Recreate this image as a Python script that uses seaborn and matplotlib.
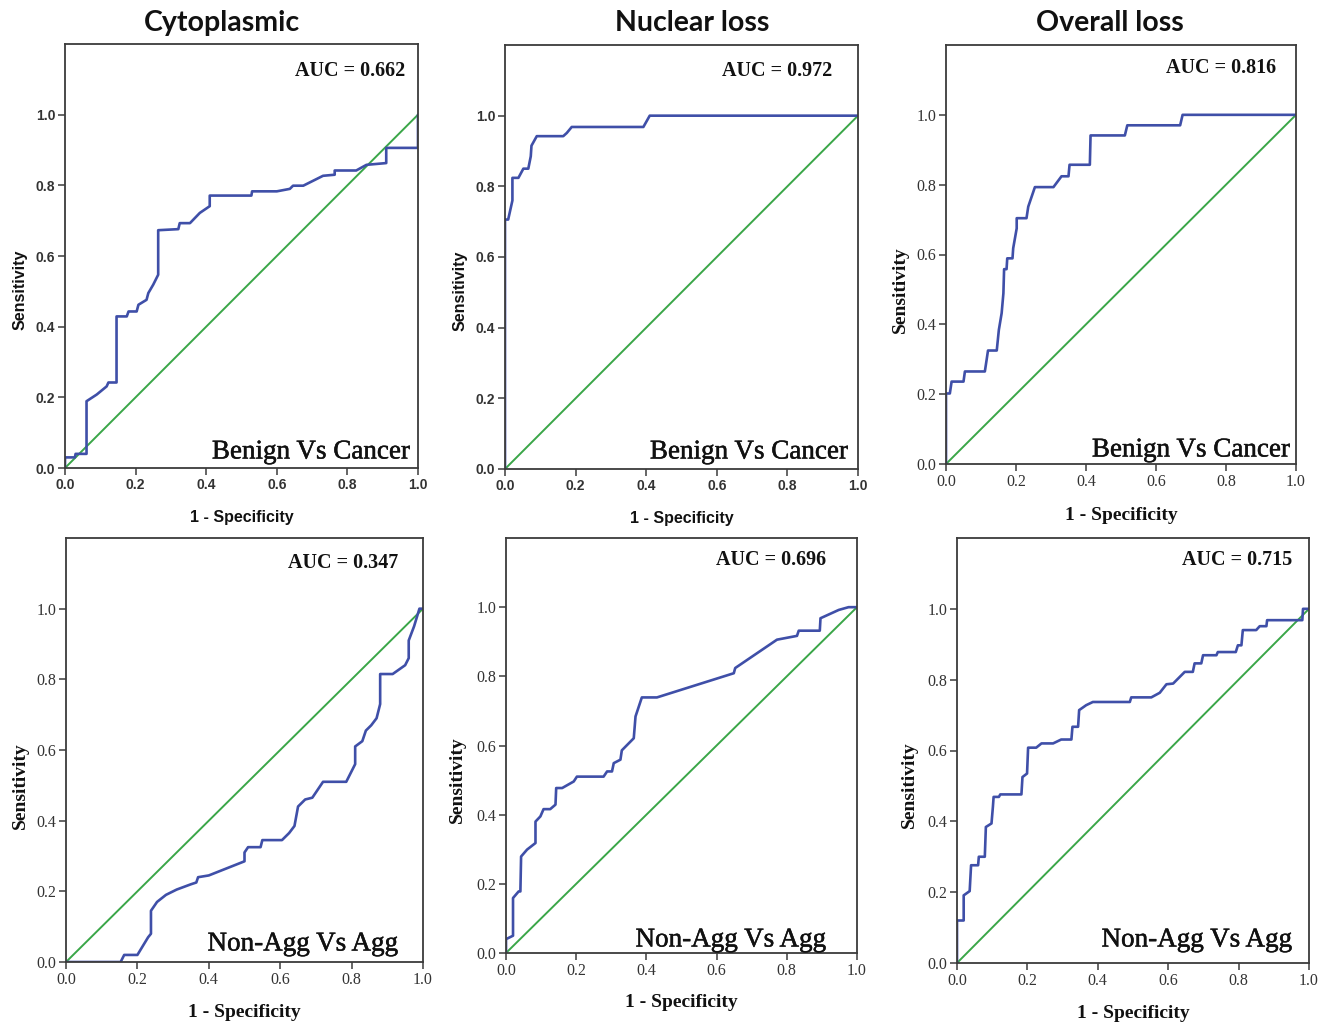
import matplotlib
matplotlib.use("Agg")
import matplotlib.pyplot as plt
import matplotlib.patheffects as pe
import seaborn as sns
import pandas as pd

sns.set_theme(style="white")
plt.rcParams['font.family'] = ['DejaVu Sans']

titles = ["Cytoplasmic", "Nuclear loss", "Overall loss"]
comparisons = ["Benign Vs Cancer", "Non-Agg Vs Agg"]
auc_values = [0.662, 0.972, 0.816, 0.347, 0.696, 0.715]
tick_values = [0.0, 0.2, 0.4, 0.6, 0.8, 1.0]
tick_labels = ["0.0", "0.2", "0.4", "0.6", "0.8", "1.0"]

# ROC curves: 1 - specificity (fpr) and sensitivity (tpr)
cyto_bc_fpr = [0, 0, 0.028, 0.03, 0.061, 0.061, 0.09, 0.118, 0.123, 0.146, 0.146, 0.175, 0.18,
               0.203, 0.208, 0.231, 0.236, 0.25, 0.264, 0.264, 0.321, 0.325, 0.354, 0.382, 0.41,
               0.41, 0.528, 0.53, 0.6, 0.637, 0.646, 0.675, 0.731, 0.764, 0.764, 0.825, 0.854,
               0.91, 0.91, 1.0, 1.0]
cyto_bc_tpr = [0, 0.03, 0.03, 0.04, 0.04, 0.189, 0.208, 0.231, 0.242, 0.242, 0.429, 0.429, 0.443,
               0.443, 0.462, 0.476, 0.495, 0.519, 0.547, 0.673, 0.676, 0.693, 0.693, 0.722, 0.741,
               0.771, 0.771, 0.783, 0.783, 0.79, 0.799, 0.799, 0.827, 0.83, 0.842, 0.842, 0.858,
               0.863, 0.906, 0.906, 1.0]

nuc_bc_fpr = [0, 0, 0.009, 0.021, 0.021, 0.038, 0.052, 0.066, 0.073, 0.075, 0.09, 0.165, 0.175,
              0.189, 0.392, 0.41, 1.0]
nuc_bc_tpr = [0, 0.706, 0.706, 0.76, 0.824, 0.824, 0.85, 0.85, 0.885, 0.915, 0.942, 0.942, 0.951,
              0.968, 0.968, 1.0, 1.0]

ovr_bc_fpr = [0, 0, 0.011, 0.016, 0.05, 0.054, 0.111, 0.116, 0.12, 0.145, 0.151, 0.159, 0.164,
              0.166, 0.173, 0.175, 0.19, 0.192, 0.202, 0.202, 0.23, 0.235, 0.254, 0.307, 0.33,
              0.35, 0.353, 0.411, 0.413, 0.511, 0.518, 0.669, 0.676, 1.0]
ovr_bc_tpr = [0, 0.202, 0.202, 0.236, 0.236, 0.265, 0.265, 0.298, 0.325, 0.325, 0.384, 0.432,
              0.489, 0.558, 0.558, 0.589, 0.589, 0.618, 0.675, 0.704, 0.704, 0.737, 0.793, 0.793,
              0.824, 0.824, 0.857, 0.857, 0.941, 0.941, 0.97, 0.97, 1.0, 1.0]

cyto_na_fpr = [0, 0.153, 0.163, 0.2, 0.23, 0.238, 0.238, 0.255, 0.28, 0.31, 0.35, 0.365, 0.37,
               0.4, 0.5, 0.5, 0.51, 0.545, 0.55, 0.605, 0.625, 0.64, 0.65, 0.67, 0.69, 0.72, 0.785,
               0.8, 0.81, 0.81, 0.83, 0.84, 0.855, 0.87, 0.88, 0.88, 0.915, 0.95, 0.96, 0.96, 0.975,
               0.99, 1.0]
cyto_na_tpr = [0, 0, 0.02, 0.02, 0.07, 0.08, 0.145, 0.17, 0.19, 0.205, 0.22, 0.225, 0.24, 0.245,
               0.285, 0.31, 0.325, 0.325, 0.345, 0.345, 0.365, 0.385, 0.44, 0.46, 0.465, 0.51,
               0.51, 0.54, 0.56, 0.61, 0.625, 0.655, 0.67, 0.69, 0.73, 0.815, 0.815, 0.84, 0.86,
               0.91, 0.95, 1.0, 1.0]

nuc_na_fpr = [0, 0, 0.02, 0.02, 0.036, 0.041, 0.043, 0.06, 0.084, 0.084, 0.098, 0.107, 0.126,
              0.141, 0.143, 0.16, 0.193, 0.202, 0.278, 0.288, 0.302, 0.307, 0.326, 0.33, 0.364,
              0.369, 0.387, 0.43, 0.649, 0.653, 0.772, 0.829, 0.834, 0.894, 0.896, 0.948, 0.976,
              1.0]
nuc_na_tpr = [0, 0.04, 0.05, 0.159, 0.178, 0.178, 0.279, 0.299, 0.318, 0.38, 0.395, 0.416, 0.416,
              0.429, 0.477, 0.477, 0.496, 0.51, 0.51, 0.525, 0.525, 0.549, 0.559, 0.586, 0.621,
              0.684, 0.739, 0.739, 0.809, 0.824, 0.906, 0.917, 0.932, 0.932, 0.968, 0.992, 1.0,
              1.0]

ovr_na_fpr = [0, 0, 0.019, 0.019, 0.036, 0.04, 0.06, 0.062, 0.079, 0.082, 0.098, 0.102, 0.104,
              0.119, 0.123, 0.183, 0.186, 0.199, 0.202, 0.225, 0.24, 0.273, 0.296, 0.325, 0.328,
              0.344, 0.347, 0.367, 0.386, 0.491, 0.495, 0.552, 0.576, 0.595, 0.614, 0.633, 0.647,
              0.67, 0.675, 0.694, 0.699, 0.737, 0.741, 0.792, 0.798, 0.808, 0.812, 0.85, 0.86,
              0.879, 0.881, 0.981, 0.983, 1.0]
ovr_na_tpr = [0, 0.12, 0.12, 0.191, 0.203, 0.276, 0.276, 0.3, 0.3, 0.384, 0.394, 0.441, 0.469,
              0.469, 0.476, 0.476, 0.525, 0.535, 0.608, 0.608, 0.62, 0.62, 0.631, 0.631, 0.667,
              0.667, 0.714, 0.728, 0.737, 0.737, 0.75, 0.75, 0.763, 0.787, 0.789, 0.808, 0.822,
              0.822, 0.846, 0.846, 0.869, 0.869, 0.878, 0.878, 0.897, 0.897, 0.94, 0.94, 0.951,
              0.951, 0.968, 0.968, 1.0, 1.0]

curves = [(cyto_bc_fpr, cyto_bc_tpr), (nuc_bc_fpr, nuc_bc_tpr), (ovr_bc_fpr, ovr_bc_tpr),
          (cyto_na_fpr, cyto_na_tpr), (nuc_na_fpr, nuc_na_tpr), (ovr_na_fpr, ovr_na_tpr)]

W, H = 1325, 1025
# axes boxes in pixels: left, right, top, bottom
boxes = [(65, 418, 44, 468), (505, 858, 45, 469), (946, 1296, 45, 464),
         (66, 423, 538, 962), (506, 857, 538, 953), (957, 1309, 538, 963)]
ylab_pos = [(-0.127, 0.42), (-0.127, 0.42), (-0.131, 0.415),
            (-0.129, 0.417), (-0.137, 0.417), (-0.134, 0.42)]
xlab_y = [-0.116, -0.116, -0.122, -0.118, -0.12, -0.118]
auc_pos = [(405, 71), (832, 71), (1276, 68), (398, 563), (826, 560), (1292, 560)]
cmp_pos = [(410, 452), (848, 452), (1290, 450), (398, 944), (826, 940), (1292, 940)]
title_x = [222, 692, 1110]

BLUE = "#3f4fa8"
GREEN = "#3aa648"
FRAME = "#3c3c3c"
SANS = ["Liberation Sans", "DejaVu Sans"]
SERIF = ["Liberation Serif", "DejaVu Serif"]

fig = plt.figure(figsize=(W / 100, H / 100), dpi=100)
fig.patch.set_facecolor("white")

for i in range(6):
    l, r, t, b = boxes[i]
    ax = fig.add_axes([l / W, 1 - b / H, (r - l) / W, (b - t) / H])
    ax.set_facecolor("white")
    fpr, tpr = curves[i]
    df = pd.DataFrame({"fpr": fpr, "tpr": tpr})
    diag = pd.DataFrame({"fpr": [0.0, 1.0], "tpr": [0.0, 1.0]})
    sns.lineplot(data=diag, x="fpr", y="tpr", ax=ax, color=GREEN, lw=1.4,
                 sort=False, estimator=None)
    sns.lineplot(data=df, x="fpr", y="tpr", ax=ax, color=BLUE, lw=1.9,
                 sort=False, estimator=None)
    ax.set_xlim(0, 1.0)
    ax.set_ylim(0, 1.2)
    ax.set_xticks(tick_values)
    ax.set_yticks(tick_values)
    ax.set_xticklabels(tick_labels)
    ax.set_yticklabels(tick_labels)
    for s in ax.spines.values():
        s.set_color(FRAME)
        s.set_linewidth(1.3)
        s.set_visible(True)
    sans_panel = i < 2
    fam = SANS if sans_panel else SERIF
    tsize = 10 if sans_panel else 11.5
    ax.tick_params(axis="both", which="major", direction="out", length=5, width=1.1,
                   color=FRAME, labelcolor="#333333", labelsize=tsize, pad=2,
                   bottom=True, left=True, top=False, right=False)
    for lab in ax.get_xticklabels() + ax.get_yticklabels():
        lab.set_family(fam)
        lab.set_fontweight("bold" if sans_panel else "normal")
    lsize = 11.5 if sans_panel else 14
    ax.set_xlabel("1 - Specificity", family=fam, fontweight="bold", fontsize=lsize,
                  color="#111111")
    ax.set_ylabel("Sensitivity", family=fam, fontweight="bold", fontsize=lsize,
                  color="#111111")
    ax.xaxis.set_label_coords(0.5, xlab_y[i])
    ax.xaxis.label.set_va("center")
    ax.yaxis.set_label_coords(*ylab_pos[i])
    ax.yaxis.label.set_va("center")
    ax.grid(False)

    ax_x, ax_y = auc_pos[i]
    fig.text(ax_x / W, 1 - ax_y / H, "AUC = %.3f" % auc_values[i], ha="right", va="center",
             family=SERIF, fontweight="bold", fontsize=14.5, color="#111111")
    cx, cy = cmp_pos[i]
    fig.text(cx / W, 1 - cy / H, comparisons[i // 3], ha="right", va="center",
             family=SERIF, fontsize=19.5, color="#111111",
             path_effects=[pe.withStroke(linewidth=0.35, foreground="#111111")])

for j in range(3):
    fig.text(title_x[j] / W, 1 - 23 / H, titles[j], ha="center", va="center",
             family=["Lato", "DejaVu Sans"], fontweight="bold", fontsize=20.5, color="#111111")

fig.savefig("out.png", dpi=100, facecolor="white")
